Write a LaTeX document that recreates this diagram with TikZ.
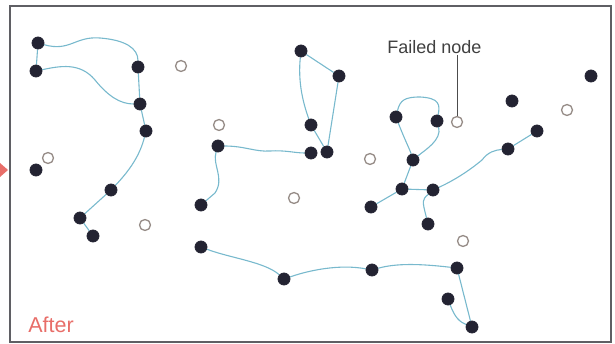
\documentclass[tikz,border=0pt]{standalone}
\usepackage{fontspec}
\newfontfamily\labelfont{Liberation Sans}
\usetikzlibrary{backgrounds}
\definecolor{linkblue}{RGB}{120,185,205}
\definecolor{nodedark}{RGB}{35,35,50}
\definecolor{failgray}{RGB}{150,140,135}
\definecolor{afterpink}{RGB}{232,110,105}
\definecolor{framegray}{RGB}{95,95,100}

\begin{document}
\begin{tikzpicture}[x=1pt,y=-1pt,thick]
        %
        % `alive' is used for working nodes (dark dots).
        % `failed' is used for the failed nodes (open circles).
        % `link' is used for the routes between nodes.
        \tikzstyle{alive} = [fill=nodedark,draw=nodedark,shape=circle,minimum size=12pt,inner sep=0pt]
        \tikzstyle{failed} = [fill=white,draw=failgray,shape=circle,minimum size=11pt,inner sep=0pt,line width=1.3pt]
        \tikzstyle{link} = [draw=linkblue,line width=1.1pt]
        \tikzstyle{surround} = [draw=framegray,line width=1.4pt]
        %
        \useasboundingbox (0,0) rectangle (615,344);
        % Frame and arrow tip
        \draw[surround] (10,6) rectangle (611,342);
        \fill[afterpink] (0,163) -- (8,170) -- (0,177) -- cycle;
        %
        % Left group
        \node[alive] (a1) at (38,43) {};
        \node[alive] (a2) at (36,71) {};
        \node[alive] (a3) at (138,67) {};
        \node[alive] (a4) at (140,104) {};
        \node[alive] (a5) at (146,131) {};
        \node[alive] (a6) at (111,190) {};
        \node[alive] (a7) at (80,218) {};
        \node[alive] (a8) at (93,236) {};
        \node[alive] (e1) at (36,170) {};
        %
        % Middle group
        \node[alive] (b1) at (301,51) {};
        \node[alive] (b2) at (339,76) {};
        \node[alive] (b3) at (311,125) {};
        \node[alive] (b4) at (311,153) {};
        \node[alive] (b5) at (327,152) {};
        \node[alive] (b6) at (218,146) {};
        \node[alive] (b7) at (201,205) {};
        %
        % Right group
        \node[alive] (c1) at (396,117) {};
        \node[alive] (c2) at (437,121) {};
        \node[alive] (c3) at (413,160) {};
        \node[alive] (c4) at (402,189) {};
        \node[alive] (c5) at (433,190) {};
        \node[alive] (c6) at (371,207) {};
        \node[alive] (c7) at (428,224) {};
        \node[alive] (c8) at (508,149) {};
        \node[alive] (c9) at (537,131) {};
        \node[alive] (c10) at (512,101) {};
        \node[alive] (c11) at (591,76) {};
        %
        % Bottom group
        \node[alive] (d1) at (201,247) {};
        \node[alive] (d2) at (284,279) {};
        \node[alive] (d3) at (372,270) {};
        \node[alive] (d4) at (457,268) {};
        \node[alive] (d5) at (448,299) {};
        \node[alive] (d6) at (472,327) {};
        %
        % Failed nodes
        \node[failed] (fail1) at (48,158) {};
        \node[failed] (fail2) at (181,66) {};
        \node[failed] (fail3) at (145,225) {};
        \node[failed] (fail4) at (219,125) {};
        \node[failed] (fail5) at (294,198) {};
        \node[failed] (fail6) at (370,159) {};
        \node[failed] (fail7) at (457,122) {};
        \node[failed] (fail8) at (567,110) {};
        \node[failed] (fail9) at (463,241) {};
        %
        % Labels
        \node[anchor=base west,inner sep=0pt,text=black!75,font=\labelfont\fontsize{18}{20}\selectfont] (lbl) at (387,54) {Failed node};
        \draw[black!70,line width=0.9pt] (fail7) -- (fail7 |- lbl.south) ++(0,-3);
        \node[anchor=base west,inner sep=0pt,text=afterpink,font=\labelfont\fontsize{21.5}{24}\selectfont] (after) at (28,332) {After};
        %
        % Links
        \begin{pgfonlayer}{background}
        \draw[link] (a1) -- (a2);
        \draw[link] (a1) .. controls (70,52) and (75,36) .. (100,38) .. controls (125,40) and (138,48) .. (a3);
        \draw[link] (a2) .. controls (60,66) and (80,62) .. (95,80) .. controls (108,96) and (120,104) .. (a4);
        \draw[link] (a3) -- (a4) -- (a5);
        \draw[link] (a5) .. controls (140,155) and (130,170) .. (a6);
        \draw[link] (a6) -- (a7) -- (a8);
        %
        \draw[link] (b1) -- (b2);
        \draw[link] (b1) .. controls (298,80) and (302,100) .. (b3);
        \draw[link] (b3) -- (b5);
        \draw[link] (b2) -- (b5);
        \draw[link] (b6) .. controls (245,146) and (255,152) .. (270,151) .. controls (285,150) and (295,153) .. (b4);
        \draw[link] (b6) .. controls (212,165) and (225,178) .. (215,193) -- (b7);
        %
        \draw[link] (c1) .. controls (400,100) and (405,97) .. (420,97) .. controls (440,98) and (440,105) .. (c2);
        \draw[link] (c2) .. controls (442,140) and (425,150) .. (c3);
        \draw[link] (c1) .. controls (404,138) and (410,150) .. (c3);
        \draw[link] (c3) -- (c4);
        \draw[link] (c4) -- (c6);
        \draw[link] (c4) -- (c5);
        \draw[link] (c5) .. controls (422,200) .. (c7);
        \draw[link] (c5) .. controls (455,180) and (470,170) .. (482,160) .. controls (488,152) and (495,150) .. (c8);
        \draw[link] (c8) -- (c9);
        %
        \draw[link] (d1) .. controls (230,258) and (265,262) .. (d2);
        \draw[link] (d2) .. controls (310,270) and (340,264) .. (d3);
        \draw[link] (d3) .. controls (400,262) and (430,265) .. (d4);
        \draw[link] (d4) -- (d6);
        \draw[link] (d5) .. controls (455,318) and (460,322) .. (d6);
        \end{pgfonlayer}
        %
\end{tikzpicture}
\end{document}
